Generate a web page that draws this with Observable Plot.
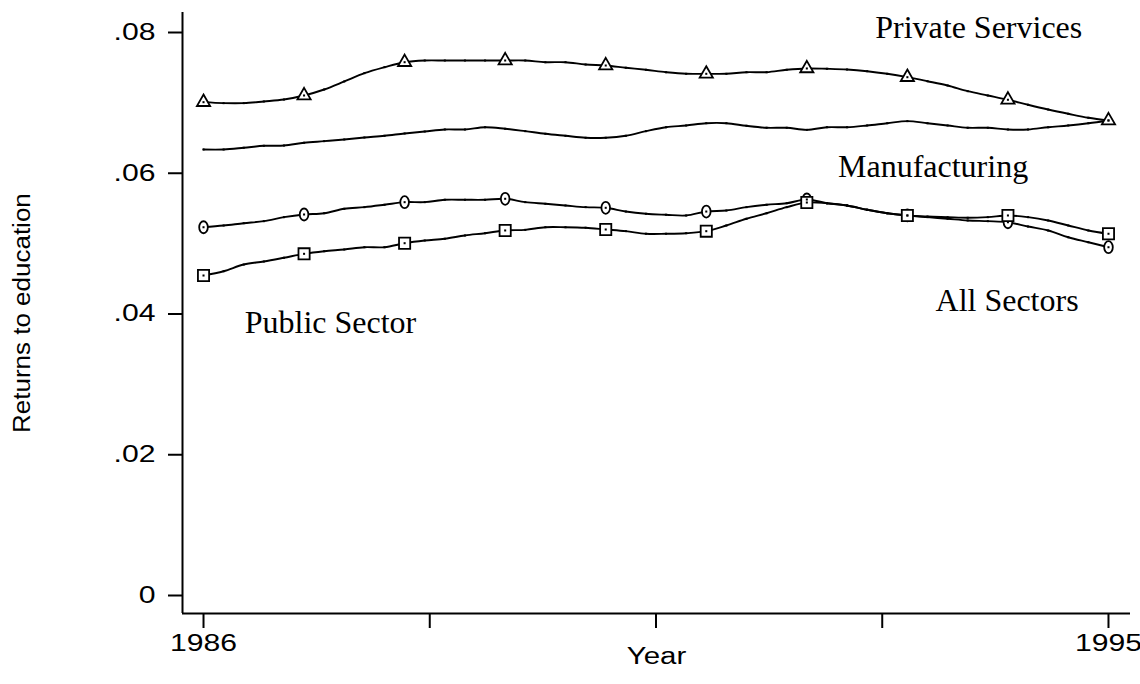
<!DOCTYPE html>
<html><head><meta charset="utf-8">
<script src="https://cdn.jsdelivr.net/npm/d3@7"></script>
<script src="https://cdn.jsdelivr.net/npm/@observablehq/plot@0.6"></script>
<style>body{margin:0;background:#fff}</style>
</head><body><div id="chart"></div>
<script>
// ---- data ----
const years = [
  1986.0, 1986.2, 1986.4, 1986.6, 1986.8,
  1987.0, 1987.2, 1987.4, 1987.6, 1987.8,
  1988.0, 1988.2, 1988.4, 1988.6, 1988.8,
  1989.0, 1989.2, 1989.4, 1989.6, 1989.8,
  1990.0, 1990.2, 1990.4, 1990.6, 1990.8,
  1991.0, 1991.2, 1991.4, 1991.6, 1991.8,
  1992.0, 1992.2, 1992.4, 1992.6, 1992.8,
  1993.0, 1993.2, 1993.4, 1993.6, 1993.8,
  1994.0, 1994.2, 1994.4, 1994.6, 1994.8,
  1995.0
];
const privateServices = [
  0.07010, 0.06996, 0.06996, 0.07020, 0.07048,
  0.07105, 0.07190, 0.07304, 0.07422, 0.07507,
  0.07578, 0.07602, 0.07602, 0.07602, 0.07602,
  0.07602, 0.07602, 0.07578, 0.07578, 0.07545,
  0.07531, 0.07499, 0.07470, 0.07436, 0.07413,
  0.07413, 0.07413, 0.07436, 0.07436, 0.07470,
  0.07489, 0.07484, 0.07474, 0.07450, 0.07413,
  0.07365, 0.07308, 0.07247, 0.07166, 0.07105,
  0.07044, 0.06973, 0.06906, 0.06845, 0.06788,
  0.06750
];
const manufacturing = [
  0.06338, 0.06338, 0.06362, 0.06390, 0.06394,
  0.06433, 0.06456, 0.06480, 0.06508, 0.06532,
  0.06565, 0.06593, 0.06622, 0.06622, 0.06654,
  0.06632, 0.06598, 0.06561, 0.06532, 0.06504,
  0.06504, 0.06532, 0.06598, 0.06654, 0.06679,
  0.06711, 0.06711, 0.06674, 0.06646, 0.06646,
  0.06617, 0.06654, 0.06654, 0.06679, 0.06711,
  0.06740, 0.06711, 0.06679, 0.06646, 0.06646,
  0.06622, 0.06622, 0.06654, 0.06679, 0.06711,
  0.06750
];
const allSectors = [
  0.05233, 0.05258, 0.05290, 0.05319, 0.05376,
  0.05414, 0.05432, 0.05495, 0.05518, 0.05552,
  0.05589, 0.05589, 0.05623, 0.05623, 0.05623,
  0.05637, 0.05589, 0.05566, 0.05542, 0.05518,
  0.05509, 0.05456, 0.05424, 0.05410, 0.05400,
  0.05456, 0.05471, 0.05518, 0.05552, 0.05574,
  0.05627, 0.05574, 0.05542, 0.05481, 0.05432,
  0.05400, 0.05376, 0.05353, 0.05329, 0.05319,
  0.05304, 0.05243, 0.05187, 0.05091, 0.05020,
  0.04949
];
const publicSector = [
  0.04547, 0.04608, 0.04703, 0.04746, 0.04799,
  0.04855, 0.04892, 0.04917, 0.04949, 0.04949,
  0.05006, 0.05044, 0.05069, 0.05116, 0.05148,
  0.05187, 0.05196, 0.05233, 0.05233, 0.05225,
  0.05201, 0.05177, 0.05140, 0.05140, 0.05148,
  0.05177, 0.05258, 0.05353, 0.05432, 0.05518,
  0.05584, 0.05574, 0.05542, 0.05481, 0.05432,
  0.05400, 0.05385, 0.05376, 0.05367, 0.05376,
  0.05400, 0.05376, 0.05329, 0.05258, 0.05187,
  0.05140
];
const markerYears = [1986, 1987, 1988, 1989, 1990, 1991, 1992, 1993, 1994, 1995];
const seriesNames = ["Private Services", "Manufacturing", "All Sectors", "Public Sector"];
const yTicks = [0, 0.02, 0.04, 0.06, 0.08];
const yTickLabels = ["0", ".02", ".04", ".06", ".08"];
const xTicks = [1986, 1988.25, 1990.5, 1992.75, 1995];
const xTickLabels = ["1986", "", "", "", "1995"];
const xTitle = "Year";
const yTitle = "Returns to education";
// series label anchors (data units)
const labelYear = [1992.68, 1992.31, 1993.28, 1986.41];
const labelValue = [0.07915, 0.05950, 0.04036, 0.03723];

// ---- build tables ----
const seriesValues = [privateServices, manufacturing, allSectors, publicSector];
const rows = [];
seriesNames.forEach((s, j) => years.forEach((yr, i) => rows.push({series: s, year: yr, value: seriesValues[j][i]})));
const isMarkerYear = (yr) => markerYears.some(m => Math.abs(m - yr) < 1e-6);
const markerRows = rows.filter(d => isMarkerYear(d.year));
const labelRows = seriesNames.map((s, i) => ({name: s, x: labelYear[i], y: labelValue[i]}));

const ellipse = {draw(ctx, size) {
  const r = Math.sqrt(size / Math.PI), rx = r * 0.72, ry = r, k = 0.5523;
  ctx.moveTo(rx, 0);
  ctx.bezierCurveTo(rx, k * ry, k * rx, ry, 0, ry);
  ctx.bezierCurveTo(-k * rx, ry, -rx, k * ry, -rx, 0);
  ctx.bezierCurveTo(-rx, -k * ry, -k * rx, -ry, 0, -ry);
  ctx.bezierCurveTo(k * rx, -ry, rx, -k * ry, rx, 0);
  ctx.closePath();
}};

const xDomain = [1985.791, 1995.219];
const yDomain = [-0.002558, 0.082842];
const serif = "'Liberation Serif', 'Times New Roman', serif";

const chart = Plot.plot({
  width: 1140, height: 684,
  marginLeft: 182, marginRight: 10, marginTop: 12, marginBottom: 71,
  style: {fontFamily: "'Liberation Sans', Arial, sans-serif", fontSize: "23px", background: "white", color: "black", overflow: "visible"},
  x: {domain: xDomain},
  y: {domain: yDomain},
  marks: [
    Plot.ruleX([xDomain[0]], {stroke: "black", strokeWidth: 2}),
    Plot.ruleY([yDomain[0]], {stroke: "black", strokeWidth: 2}),
    Plot.axisY({ticks: yTicks, tickFormat: d => yTickLabels[yTicks.indexOf(d)], tickSize: 14, tickPadding: 13, strokeWidth: 2, label: null, fontSize: 23}),
    Plot.axisX({ticks: xTicks, tickFormat: d => xTickLabels[xTicks.indexOf(d)], tickSize: 15, tickPadding: 6, strokeWidth: 2, label: null, fontSize: 23}),
    Plot.text([yTitle], {frameAnchor: "left", dx: -160, dy: 120, rotate: -90, textAnchor: "start", fontSize: 23, fill: "black"}),
    Plot.text([xTitle], {frameAnchor: "bottom", dy: 50, fontSize: 23, fill: "black"}),
    Plot.line(rows, {x: "year", y: "value", z: "series", stroke: "black", strokeWidth: 1.9, curve: "catmull-rom"}),
    Plot.dot(markerRows.filter(d => d.series === "Private Services"), {x: "year", y: "value", symbol: "triangle", r: 4.9, fill: "white", stroke: "black", strokeWidth: 1.8}),
    Plot.dot(markerRows.filter(d => d.series === "All Sectors"), {x: "year", y: "value", symbol: ellipse, r: 6, fill: "white", stroke: "black", strokeWidth: 1.8}),
    Plot.dot(markerRows.filter(d => d.series === "Public Sector"), {x: "year", y: "value", symbol: "square", r: 6.3, fill: "white", stroke: "black", strokeWidth: 1.8}),
    Plot.dot(rows, {x: "year", y: "value", symbol: "square", r: 1.15, fill: "black"}),
    Plot.text(labelRows, {x: "x", y: "y", text: "name", textAnchor: "start", lineAnchor: "bottom", fontFamily: serif, fontSize: 32, fill: "black"})
  ]
});
document.getElementById("chart").append(chart);

// horizontally widen the sans-serif texts as in the reference
const stretch = {[xTitle]: 1.28, [yTitle]: 1.13};
chart.querySelectorAll("text").forEach(t => {
  const s = t.textContent;
  if (!s || seriesNames.includes(s)) return;
  const f = stretch[s] ?? 1.31;
  const L = t.getComputedTextLength();
  t.setAttribute("textLength", (L * f).toFixed(1));
  t.setAttribute("lengthAdjust", "spacingAndGlyphs");
});
</script>
</body></html>
